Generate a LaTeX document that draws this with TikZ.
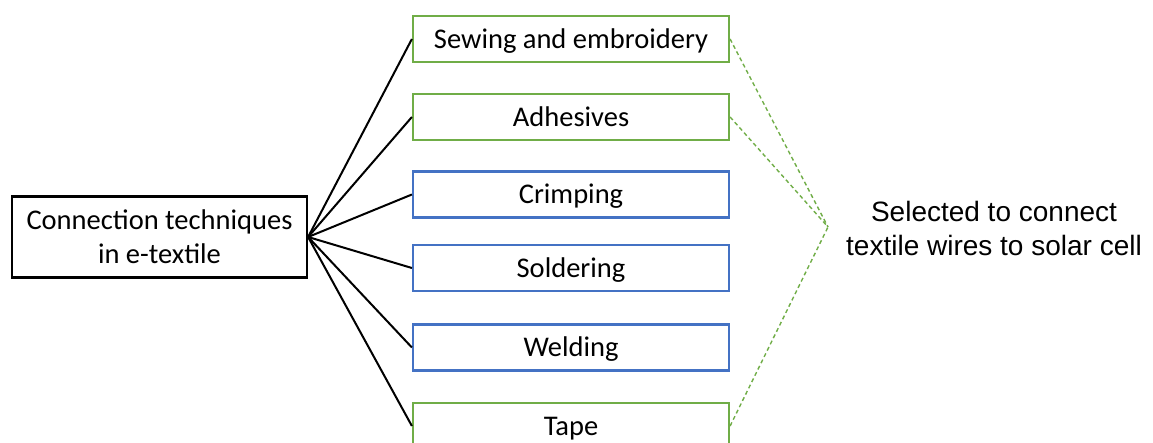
\documentclass[tikz,border=0pt]{standalone}
\usepackage{fontspec}
\setmainfont{Carlito}
\newfontfamily\arialfont{Liberation Sans}
\definecolor{officegreen}{HTML}{70AD47}
\definecolor{officeblue}{HTML}{4472C4}
\begin{document}
\begin{tikzpicture}[x=1pt,y=-1pt,
  every node/.style={font=\fontsize{28.5}{34}\selectfont},
  techbox/.style={draw, line width=2.2pt, minimum width=316pt, minimum height=46pt,
    inner sep=0pt, text height=18.4pt, text depth=0pt},
  greenbox/.style={techbox, draw=officegreen},
  bluebox/.style={techbox, draw=officeblue},
  branch/.style={line width=2pt, black},
  pick/.style={officegreen, line width=1.4pt, dash pattern=on 4pt off 3pt}]
  \useasboundingbox (0,0) rectangle (1153,443);
  \clip (0,0) rectangle (1153,443);

  % root of the tree
  \node[draw, line width=2.2pt, minimum width=295pt, minimum height=81pt, inner sep=0pt,
        align=center] (root) at (159.5,237) {Connection techniques\\in e-textile};

  % the six joining techniques
  \node[greenbox] (sew)  at (571,39)    {Sewing and embroidery};
  \node[greenbox] (adh)  at (571,117)   {Adhesives};
  \node[bluebox]  (crim) at (571,194.5) {Crimping};
  \node[bluebox]  (sold) at (571,268)   {Soldering};
  \node[bluebox]  (weld) at (571,347.5) {Welding};
  \node[greenbox] (tape) at (571,426)   {Tape};

  % branches from the root
  \foreach \t in {sew,adh,crim,sold,weld,tape}
    \draw[branch] (root.east) -- (\t.west);

  % the techniques chosen for the solar cell
  \coordinate (sel) at (828,227);
  \foreach \t in {sew,adh,tape}
    \draw[pick] (\t.east) -- (sel);

  \node[font=\arialfont\fontsize{28}{34}\selectfont, align=center, inner sep=0pt]
    (note) at (994,228) {Selected to connect\\textile wires to solar cell};
\end{tikzpicture}
\end{document}
